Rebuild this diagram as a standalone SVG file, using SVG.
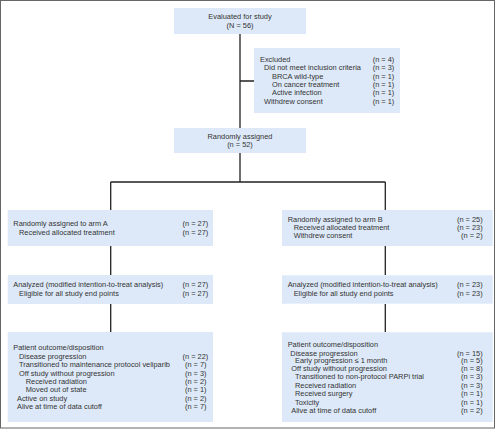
<svg xmlns="http://www.w3.org/2000/svg" width="496" height="430" viewBox="0 0 496 430">
<style>
.box{fill:#dde9f8;}
text{font-family:"Liberation Sans",Arial,sans-serif;font-size:7.4px;fill:#333;}
.c{text-anchor:middle;}
.r{text-anchor:end;}
.ln{stroke:#222;stroke-width:1.3;fill:none;}
</style>
<rect x="0" y="0" width="496" height="430" fill="#fff"/>
<rect x="0.5" y="0.5" width="494" height="427.5" fill="none" stroke="#666" stroke-width="1"/>
<g id="connectors">
<path class="ln" d="M240,34V128M240,81H254M240,153V182M110.7,182H385.3M110.7,182V210M385.3,182V210M110.7,246V275M385.3,246V275M110.7,304V332M385.3,304V332"/>
</g>
<g id="evaluated">
<rect class="box" x="174" y="8" width="132" height="26"/>
<text class="c" x="240" y="19">Evaluated for study</text>
<text class="c" x="240" y="27.5">(N = 56)</text>
</g>
<g id="excluded">
<rect class="box" x="254" y="48" width="146" height="65"/>
<text x="260" y="61.5">Excluded</text>
<text x="264" y="70">Did not meet inclusion criteria</text>
<text x="272" y="78.5">BRCA wild-type</text>
<text x="272" y="86.8">On cancer treatment</text>
<text x="272" y="95.2">Active infection</text>
<text x="264" y="103.5">Withdrew consent</text>
<text class="r" x="394.3" y="61.5">(n = 4)</text>
<text class="r" x="394.3" y="70">(n = 3)</text>
<text class="r" x="394.3" y="78.5">(n = 1)</text>
<text class="r" x="394.3" y="86.8">(n = 1)</text>
<text class="r" x="394.3" y="95.2">(n = 1)</text>
<text class="r" x="394.3" y="103.5">(n = 1)</text>
</g>
<g id="randomized">
<rect class="box" x="174" y="128" width="132" height="25"/>
<text class="c" x="240" y="138.5">Randomly assigned</text>
<text class="c" x="240" y="147">(n = 52)</text>
</g>
<g id="armA">
<rect class="box" x="7.7" y="210" width="205.3" height="36"/>
<text x="13.3" y="226">Randomly assigned to arm A</text>
<text x="19" y="234.5">Received allocated treatment</text>
<text class="r" x="208.3" y="226">(n = 27)</text>
<text class="r" x="208.3" y="234.5">(n = 27)</text>
</g>
<g id="analyzedA">
<rect class="box" x="7.7" y="275" width="205.3" height="29"/>
<text x="13.3" y="287">Analyzed (modified intention-to-treat analysis)</text>
<text x="19" y="295.5">Eligible for all study  end points</text>
<text class="r" x="208.3" y="287">(n = 27)</text>
<text class="r" x="208.3" y="295.5">(n = 27)</text>
</g>
<g id="outcomeA">
<rect class="box" x="7.7" y="332" width="205.3" height="90"/>
<text x="13.3" y="349.8">Patient outcome/disposition</text>
<text x="19" y="358.5">Disease progression</text>
<text x="19" y="366.8">Transitioned to maintenance protocol veliparib</text>
<text x="19" y="375.5">Off study without progression</text>
<text x="25.7" y="383.8">Received radiation</text>
<text x="25.7" y="392.2">Moved out of state</text>
<text x="17" y="400.5">Active on study</text>
<text x="17" y="408.8">Alive at time of data cutoff</text>
<text class="r" x="208.3" y="358.5">(n = 22)</text>
<text class="r" x="206.5" y="366.8">(n = 7)</text>
<text class="r" x="206.5" y="375.5">(n = 3)</text>
<text class="r" x="206.5" y="383.8">(n = 2)</text>
<text class="r" x="206.5" y="392.2">(n = 1)</text>
<text class="r" x="206.5" y="400.5">(n = 2)</text>
<text class="r" x="206.5" y="408.8">(n = 7)</text>
</g>
<g id="armB">
<rect class="box" x="282" y="210" width="210.7" height="36"/>
<text x="287.7" y="221.8">Randomly assigned to arm B</text>
<text x="293.7" y="229.8">Received allocated treatment</text>
<text x="293.7" y="238.2">Withdrew consent</text>
<text class="r" x="482.7" y="221.8">(n = 25)</text>
<text class="r" x="482.7" y="229.8">(n = 23)</text>
<text class="r" x="482.7" y="238.2">(n = 2)</text>
</g>
<g id="analyzedB">
<rect class="box" x="282" y="275.3" width="210.7" height="28.4"/>
<text x="287.7" y="287">Analyzed (modified intention-to-treat analysis)</text>
<text x="293.7" y="295.5">Eligible for all study end points</text>
<text class="r" x="482.7" y="287">(n = 23)</text>
<text class="r" x="482.7" y="295.5">(n = 23)</text>
</g>
<g id="outcomeB">
<rect class="box" x="282" y="332.3" width="210.7" height="89.7"/>
<text x="287.7" y="347.2">Patient outcome/disposition</text>
<text x="290.3" y="355.5">Disease progression</text>
<text x="295" y="363.2">Early progression ≤ 1 month</text>
<text x="291.3" y="371.2">Off study without progression</text>
<text x="295" y="379.2">Transitioned to non-protocol PARPi trial</text>
<text x="295" y="387.8">Received radiation</text>
<text x="295" y="396.2">Received surgery</text>
<text x="295" y="404.5">Toxicity</text>
<text x="291.3" y="412.8">Alive at time of data cutoff</text>
<text class="r" x="482.7" y="355.5">(n = 15)</text>
<text class="r" x="482.7" y="363.2">(n = 5)</text>
<text class="r" x="482.7" y="371.2">(n = 8)</text>
<text class="r" x="482.7" y="379.2">(n = 3)</text>
<text class="r" x="482.7" y="387.8">(n = 3)</text>
<text class="r" x="482.7" y="396.2">(n = 1)</text>
<text class="r" x="482.7" y="404.5">(n = 1)</text>
<text class="r" x="482.7" y="412.8">(n = 2)</text>
</g>
</svg>
